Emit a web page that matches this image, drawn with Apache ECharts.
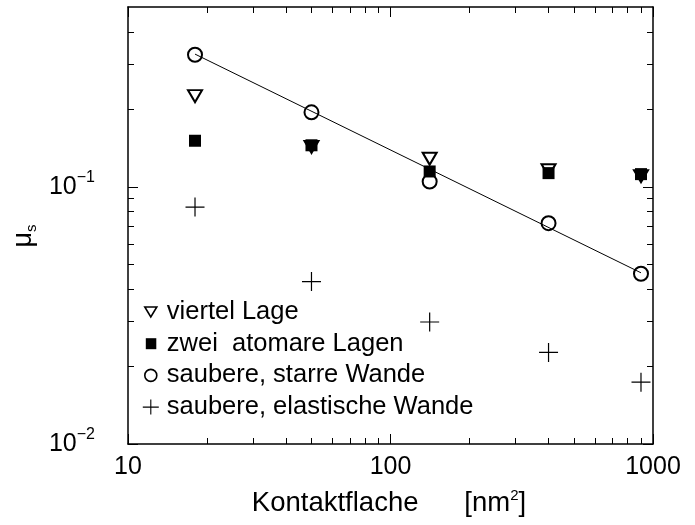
<!DOCTYPE html>
<html><head><meta charset="utf-8">
<script src="https://cdn.jsdelivr.net/npm/echarts@6/dist/echarts.min.js"></script>
<style>html,body{margin:0;padding:0;background:#fff}#c{width:695px;height:525px}</style>
</head><body><div id="c"></div>
<script>
// ---- data ----
const areas = [18, 50, 141, 400, 900];
const viertelLage = [0.225, 0.143, 0.1285, 0.116, 0.110];
const zweiLagen = [0.151, 0.145, 0.1147, 0.113, 0.112];
const starreWande = [0.326, 0.1948, 0.1048, 0.0722, 0.0459];
const elastischeWande = [0.0834, 0.0428, 0.0298, 0.0227, 0.0174];
const fitX = [18, 900];
const fitY = [0.328, 0.0463];
const seriesNames = ['viertel Lage', 'zwei  atomare Lagen', 'saubere, starre Wande', 'saubere, elastische Wande'];
const xMajorTicks = [10, 100, 1000];
const xMinorTicks = [20, 30, 40, 50, 60, 70, 80, 90, 200, 300, 400, 500, 600, 700, 800, 900];
const yMajorTicks = [0.01, 0.1];
const yMinorTicks = [0.02, 0.03, 0.04, 0.05, 0.06, 0.07, 0.08, 0.09, 0.2, 0.3, 0.4];
const xRange = [10, 1000];
const yRange = [0.01, 0.5];

// ---- chart ----
const FONT = "'Liberation Sans', Arial, Helvetica, sans-serif";
const pairs = (xs, ys) => xs.map((x, i) => [x, ys[i]]);

function xAx(pos, ticks, len, showLine, showLabel) {
  return {
    type: 'log', logBase: 10, min: xRange[0], max: xRange[1], position: pos, gridIndex: 0,
    axisLine: { show: showLine, onZero: false, lineStyle: { color: '#000', width: 1.5 } },
    axisTick: { show: true, inside: true, length: len, customValues: ticks, lineStyle: { color: '#000', width: 1 } },
    axisLabel: showLabel ? {
      show: true, customValues: xMajorTicks, margin: 11, color: '#000', fontFamily: FONT, fontSize: 25,
      formatter: v => String(Math.round(v))
    } : { show: false },
    splitLine: { show: false }, minorTick: { show: false }
  };
}
function yAx(pos, ticks, len, showLine, showLabel) {
  return {
    type: 'log', logBase: 10, min: yRange[0], max: yRange[1], position: pos, gridIndex: 0,
    axisLine: { show: showLine, onZero: false, lineStyle: { color: '#000', width: 1.5 } },
    axisTick: { show: true, inside: true, length: len, customValues: ticks, lineStyle: { color: '#000', width: 1 } },
    axisLabel: showLabel ? {
      show: true, customValues: yMajorTicks, margin: 33, color: '#000', fontFamily: FONT,
      formatter: v => {
        const e = Math.log10(v), r = Math.round(e);
        if (Math.abs(e - r) > 1e-6) return '';
        return '{n|10}{s|\u2212' + (-r) + '}';
      },
      rich: {
        n: { fontFamily: FONT, fontSize: 25, lineHeight: 34, color: '#000' },
        s: { fontFamily: FONT, fontSize: 16, lineHeight: 16, verticalAlign: 'top', color: '#000' }
      }
    } : { show: false },
    splitLine: { show: false }, minorTick: { show: false }
  };
}

const BOX = 'M0,0M20,20';
const legendIcons = [
  'path://' + BOX + 'M3,5L15,5L9,15Z',
  'path://' + BOX + 'M4,4.5L14.5,4.5L14.5,15.5L4,15.5Z',
  'path://' + BOX + 'M3,10A6,6 0 1,0 15,10A6,6 0 1,0 3,10Z',
  'path://' + BOX + 'M1,10L17,10M9,2.5L9,17.5'
];
const legendStyles = [
  { color: 'rgba(0,0,0,0)', borderColor: '#000', borderWidth: 1.6, opacity: 1 },
  { color: '#000', borderColor: '#000', borderWidth: 0, opacity: 1 },
  { color: 'rgba(0,0,0,0)', borderColor: '#000', borderWidth: 1.6, opacity: 1 },
  { color: 'rgba(0,0,0,0)', borderColor: '#000', borderWidth: 1.1, opacity: 1 }
];

const option = {
  animation: false,
  backgroundColor: '#fff',
  grid: { left: 128, right: 42, top: 7, bottom: 81, containLabel: false },
  xAxis: [
    xAx('bottom', xMajorTicks, 10, true, true),
    xAx('bottom', xMinorTicks, 6, false, false),
    xAx('top', xMajorTicks, 10, true, false),
    xAx('top', xMinorTicks, 6, false, false)
  ],
  yAxis: [
    yAx('left', yMajorTicks, 10, true, true),
    yAx('left', yMinorTicks, 6, false, false),
    yAx('right', yMajorTicks, 10, true, false),
    yAx('right', yMinorTicks, 6, false, false)
  ],
  legend: {
    orient: 'vertical', left: 136, top: 294, itemWidth: 20, itemHeight: 20, itemGap: 5.7,
    selectedMode: false,
    textStyle: { fontFamily: FONT, fontSize: 25.5, color: '#000', lineHeight: 25 },
    data: seriesNames.map((n, i) => ({ name: n, icon: legendIcons[i], itemStyle: legendStyles[i] }))
  },
  graphic: [
    {
      type: 'text', x: 389, y: 503,
      style: {
        text: '{a|Kontaktflache      [nm}{s|2}{a|]}', align: 'center', verticalAlign: 'middle',
        rich: {
          a: { fontFamily: FONT, fontSize: 27.5, lineHeight: 30, fill: '#000' },
          s: { fontFamily: FONT, fontSize: 15, lineHeight: 15, verticalAlign: 'top', fill: '#000' }
        }
      }
    },
    {
      type: 'text', x: 24, y: 236, rotation: Math.PI / 2,
      style: {
        text: '{a|\u03bc}{s|s}', align: 'center', verticalAlign: 'middle',
        rich: {
          a: { fontFamily: FONT, fontSize: 27, lineHeight: 30, fill: '#000' },
          s: { fontFamily: FONT, fontSize: 15, lineHeight: 15, verticalAlign: 'bottom', fill: '#000' }
        }
      }
    }
  ],
  series: [
    {
      name: 'fit', type: 'line', data: pairs(fitX, fitY), showSymbol: false, symbol: 'none',
      lineStyle: { color: '#000', width: 1 }, silent: true, z: 1
    },
    {
      name: seriesNames[0], type: 'scatter', data: pairs(areas, viertelLage),
      symbol: 'triangle', symbolRotate: 180, symbolSize: [14, 12],
      itemStyle: { color: 'rgba(0,0,0,0)', borderColor: '#000', borderWidth: 2, opacity: 1 }, z: 2
    },
    {
      name: seriesNames[1], type: 'scatter', data: pairs(areas, zweiLagen),
      symbol: 'rect', symbolSize: 12,
      itemStyle: { color: '#000', borderWidth: 0, opacity: 1 }, z: 3
    },
    {
      name: seriesNames[2], type: 'scatter', data: pairs(areas, starreWande),
      symbol: 'circle', symbolSize: 14,
      itemStyle: { color: 'rgba(0,0,0,0)', borderColor: '#000', borderWidth: 2, opacity: 1 }, z: 4
    },
    {
      name: seriesNames[3], type: 'scatter', data: pairs(areas, elastischeWande),
      symbol: 'path://M0,9L18,9M9,0L9,18', symbolSize: 19,
      itemStyle: { color: 'rgba(0,0,0,0)', borderColor: '#000', borderWidth: 1.2, opacity: 1 }, z: 5
    }
  ]
};
const chart = echarts.init(document.getElementById('c'), null, { renderer: 'canvas' });
chart.setOption(option);
</script>
</body></html>
